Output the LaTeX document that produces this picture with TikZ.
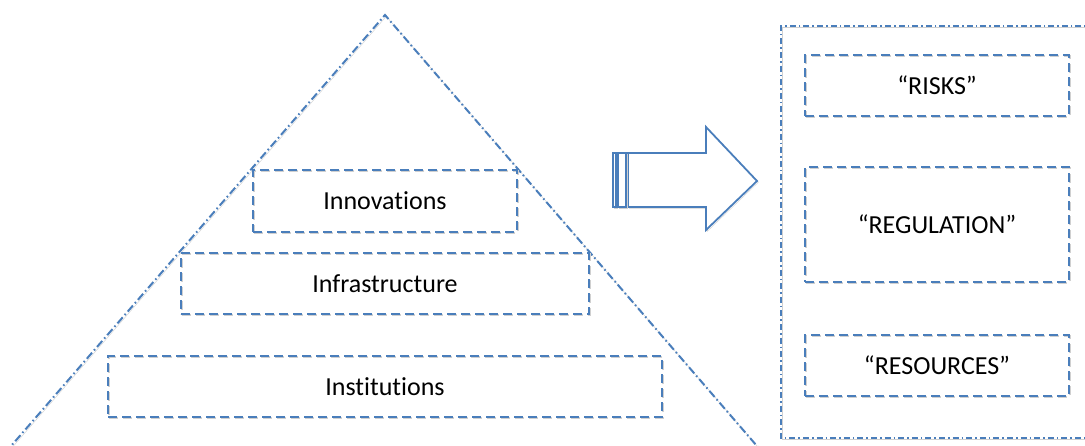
\documentclass[tikz,border=0pt]{standalone}
\usepackage{fontspec}
\setmainfont{Carlito}[Ligatures={NoCommon}]
\begin{document}
\definecolor{lineblue}{HTML}{4A7EBB}
\definecolor{shade}{HTML}{D0D0D0}
\begin{tikzpicture}[x=1pt,y=-1pt,
  shadowed/.style={preaction={draw=shade,transform canvas={shift={(1.3pt,-1.3pt)}}}},
  tier/.style={draw=lineblue,line width=2pt,dash pattern=on 9pt off 5pt,shadowed,
    inner sep=0pt,font=\fontsize{26}{30}\selectfont,text=black},
  slope/.style={draw=lineblue,line width=2pt,dash pattern=on 8pt off 3pt on 1.6pt off 3pt,shadowed},
  panel/.style={draw=lineblue,line width=2pt,dash pattern=on 6pt off 3pt on 1.6pt off 3pt,shadowed},
  bigarrow/.style={draw=lineblue,line width=1.8pt,line join=miter,fill=white,shadowed}]
\useasboundingbox (0,0) rectangle (1085,445);
\clip (0,0) rectangle (1085,445);
% pyramid sides
\coordinate (apex) at (385,15);
\coordinate (baseL) at (5,453);
\coordinate (baseR) at (763,453);
\draw[slope] (baseL) -- (apex) -- (baseR);
% tiers of the pyramid
\node[tier,minimum width=264pt,minimum height=62pt] (innov) at (385,201) {Innovations};
\node[tier,minimum width=408pt,minimum height=61pt] (infra) at (385,283.5) {Infrastructure};
\node[tier,minimum width=554pt,minimum height=61pt] (inst) at (385,386.5) {Institutions};
% block arrow
\draw[bigarrow] (628,153) -- (706,153) -- (706,127) -- (757,181) -- (706,230) -- (706,207) -- (628,207) -- cycle;
\draw[bigarrow] (613,153) rectangle (616,207);
\draw[bigarrow] (618,153) rectangle (626,207);
% outcome panel
\draw[panel] (1095,26) -- (781,26) -- (781,438) -- (1095,438);
\node[tier,minimum width=264pt,minimum height=61pt] (risks) at (937,85.5) {“RISKS”};
\node[tier,minimum width=264pt,minimum height=115pt] (regul) at (937,224.5) {“REGULATION”};
\node[tier,minimum width=264pt,minimum height=61pt] (resou) at (937,365.5) {“RESOURCES”};
\end{tikzpicture}
\end{document}
